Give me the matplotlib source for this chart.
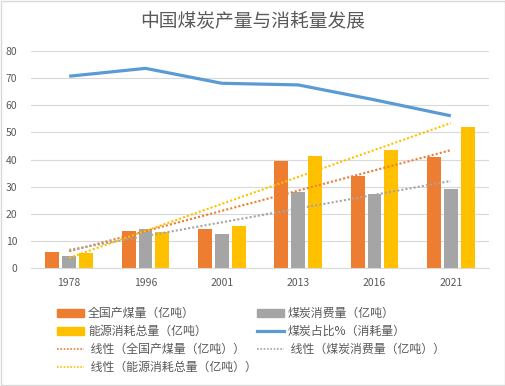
import numpy as np
import matplotlib
matplotlib.use("Agg")
import matplotlib.pyplot as plt
from matplotlib.patches import Patch
from matplotlib.lines import Line2D

plt.rcParams['font.family'] = ['Noto Sans CJK SC', 'DejaVu Sans']

years = ['1978', '1996', '2001', '2013', '2016', '2021']
production = [6.0, 13.7, 14.5, 39.6, 34.0, 41.0]      # 全国产煤量（亿吨）
coal_use = [4.5, 14.5, 12.6, 28.2, 27.2, 29.3]        # 煤炭消费量（亿吨）
energy_total = [5.7, 13.4, 15.6, 41.3, 43.6, 52.0]    # 能源消耗总量（亿吨）
coal_share = [70.7, 73.6, 68.1, 67.5, 62.0, 56.1]     # 煤炭占比%（消耗量）

c_orange = '#ED7D31'
c_gray = '#A5A5A5'
c_yellow = '#FFC000'
c_blue = '#5B9BD5'
txt = '#595959'

fig = plt.figure(figsize=(5.06, 3.86), dpi=100)
ax = fig.add_axes([31/506, 1-268/386, (489-31)/506, (268-51)/386])

x = np.arange(len(years))
w = 0.183
step = 0.222
ax.bar(x - step, production, w, color=c_orange, zorder=2)
ax.bar(x, coal_use, w, color=c_gray, zorder=2)
ax.bar(x + step, energy_total, w, color=c_yellow, zorder=2)
ax.plot(x, coal_share, color=c_blue, lw=2.3, zorder=3, solid_capstyle='butt')

# 线性趋势线（Excel 线性拟合）
for vals, c in [(production, c_orange), (coal_use, c_gray), (energy_total, c_yellow)]:
    k, b = np.polyfit(x + 1, vals, 1)
    ax.plot(x, k * (x + 1) + b, color=c, lw=1.5, ls=(0, (1, 1)), zorder=3)

ax.set_xlim(-0.5, 5.5)
ax.set_ylim(0, 80)
ax.set_yticks(range(0, 81, 10))
ax.set_xticks(x)
ax.set_xticklabels(years)
ax.tick_params(length=0, labelsize=7.5, colors=txt, pad=7)
ax.tick_params(axis='y', pad=10)
ax.grid(axis='y', color='#D9D9D9', lw=0.8, zorder=0)
for s in ['top', 'right', 'left']:
    ax.spines[s].set_visible(False)
ax.spines['bottom'].set_color('#D9D9D9')

fig.text(0.5, 1 - 22/386, '中国煤炭产量与消耗量发展', ha='center', va='center',
         fontsize=13.5, color=txt, fontweight='light')

handles = [
    Patch(color=c_orange), Patch(color=c_gray), Patch(color=c_yellow),
    Line2D([], [], color=c_blue, lw=2.3),
    Line2D([], [], color=c_orange, lw=1.2, ls=(0, (1, 1))),
    Line2D([], [], color=c_gray, lw=1.2, ls=(0, (1, 1))),
    Line2D([], [], color=c_yellow, lw=1.2, ls=(0, (1, 1))),
]
labels = ['全国产煤量（亿吨）', '煤炭消费量（亿吨）', '能源消耗总量（亿吨）',
          '煤炭占比%（消耗量）', ' 线性（全国产煤量（亿吨））',
          ' 线性（煤炭消费量（亿吨））', ' 线性（能源消耗总量（亿吨））']
order = [0, 2, 4, 6, 1, 3, 5]
leg = fig.legend([handles[i] for i in order], [labels[i] for i in order],
                 ncol=2, loc='upper left', bbox_to_anchor=(51/506, 1 - 301/386),
                 frameon=False, fontsize=8.6, handlelength=2.3, handleheight=0.6,
                 handletextpad=0.3, columnspacing=0.0, labelspacing=0.42, borderpad=0)
for t in leg.get_texts():
    t.set_color(txt)

fig.patches.append(plt.Rectangle((0.002, 0.003), 0.996, 0.994, transform=fig.transFigure,
                                 fill=False, edgecolor='#D9D9D9', lw=1))
fig.savefig('out.png', dpi=100)
